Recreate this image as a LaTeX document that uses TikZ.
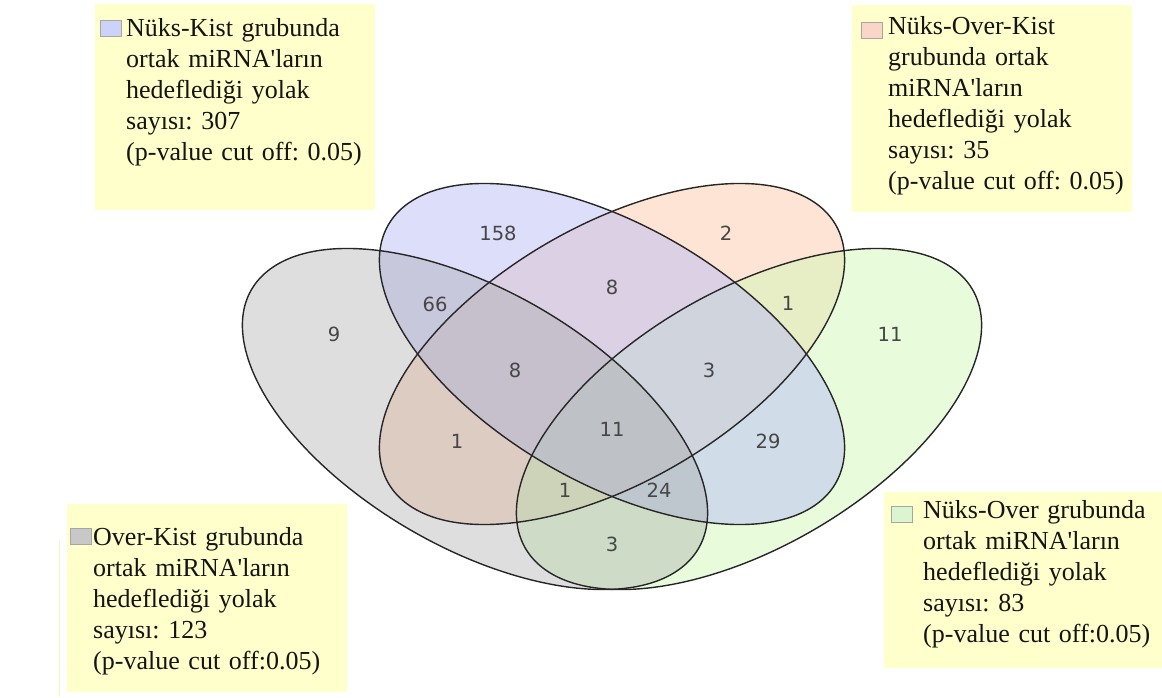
\documentclass[tikz,border=0pt]{standalone}
\usepackage{fontspec}
\setmainfont{Liberation Serif}
\newfontfamily\countfont{DejaVu Sans}
\usetikzlibrary{positioning}
\frenchspacing

\definecolor{setgrey}{RGB}{160,160,160}
\definecolor{setblue}{RGB}{185,189,245}
\definecolor{setorange}{RGB}{251,201,169}
\definecolor{setgreen}{RGB}{209,249,185}
\definecolor{legendyellow}{RGB}{255,255,204}
\definecolor{keyblue}{RGB}{205,210,249}
\definecolor{keyorange}{RGB}{251,214,200}
\definecolor{keygrey}{RGB}{200,200,200}
\definecolor{keygreen}{RGB}{218,245,208}
\definecolor{countgrey}{RGB}{70,70,70}
\newcommand{\apos}{\textquotesingle}

\begin{document}
\begin{tikzpicture}[x=1pt,y=1pt,
    venncount/.style={font=\countfont\fontsize{19.5}{19.5}\selectfont, text=countgrey, inner sep=0pt},
    legendbox/.style={fill=legendyellow, inner sep=0pt, anchor=north west},
    legendtext/.style={font=\fontsize{26}{31}\selectfont, text=black!92, align=left,
      text width=270pt, inner sep=0pt, anchor=base west},
    legendkey/.style={draw=black!35, line width=1pt, minimum width=21pt, minimum height=16pt, inner sep=0pt}]
  \useasboundingbox (0,0) rectangle (1162,697);
  % legend boxes
  \node[legendbox, minimum width=280pt, minimum height=206pt] (nkbox) at (95,693) {};
  \node[legendbox, minimum width=280pt, minimum height=207pt] (nokbox) at (852,692) {};
  \node[legendbox, minimum width=280pt, minimum height=188pt] (okbox) at (67,193) {};
  \node[legendbox, minimum width=278pt, minimum height=176pt] (nobox) at (884,205) {};
  \draw[legendyellow!70!black!12!legendyellow, line width=1pt] (59,157) -- (59,0);
  % set fills, then outlines
  \foreach \cx/\cy/\ang/\col/\op in {612/343/45/setorange/0.5, 749/278/45/setgreen/0.5, 612/343/-45/setblue/0.5, 475/278/-45/setgrey/0.35}
    \fill[fill=\col, fill opacity=\op, shift={(\cx,\cy)}, xscale=1.364, rotate=\ang]
      (0,0) ellipse [x radius=212.2, y radius=114.5];
  \foreach \cx/\cy/\ang in {475/278/-45, 612/343/-45, 612/343/45, 749/278/45}
    \draw[black!85, line width=1.4pt, shift={(\cx,\cy)}, xscale=1.364, rotate=\ang]
      (0,0) ellipse [x radius=212.2, y radius=114.5];
  % region counts
  \node[venncount] (kist) at (498,464) {158};
  \node[venncount] (overkist) at (726,464) {2};
  \node[venncount] (over) at (334,363) {9};
  \node[venncount] (kist-over) at (435,393) {66};
  \node[venncount] (kist-ovk) at (612,410) {8};
  \node[venncount] (ovk-nover) at (788,394) {1};
  \node[venncount] (nover) at (890,363) {11};
  \node[venncount] (kist-ovk-over) at (515,327) {8};
  \node[venncount] (kist-ovk-nover) at (709,327) {3};
  \node[venncount] (all) at (612,268) {11};
  \node[venncount] (ovk-over) at (457,256) {1};
  \node[venncount] (kist-nover) at (768,256) {29};
  \node[venncount] (ovk-over-nover) at (565,207) {1};
  \node[venncount] (kist-over-nover) at (659,207) {24};
  \node[venncount] (over-nover) at (612,153) {3};
  % legend texts and keys
  \node[legendkey, fill=keyblue] (nkkey) at (111,668) {};
  \node[legendtext] (nktext) at (126,660) {Nüks-Kist grubunda\\ortak miRNA\apos ların\\hedeflediği yolak\\sayısı: 307\\(p-value cut off: 0.05)};
  \node[legendkey, fill=keyorange] (nokkey) at (871.5,666) {};
  \node[legendtext] (noktext) at (888,662) {Nüks-Over-Kist\\grubunda ortak\\miRNA\apos ların\\hedeflediği yolak\\sayısı: 35\\(p-value cut off: 0.05)};
  \node[legendkey, fill=keygrey] (okkey) at (80.5,160.5) {};
  \node[legendtext] (oktext) at (93,152) {Over-Kist grubunda\\ortak miRNA\apos ların\\hedeflediği yolak\\sayısı: 123\\(p-value cut off:0.05)};
  \node[legendkey, fill=keygreen] (nokey) at (902,183) {};
  \node[legendtext] (notext) at (923,179) {Nüks-Over grubunda\\ortak miRNA\apos ların\\hedeflediği yolak\\sayısı: 83\\(p-value cut off:0.05)};
\end{tikzpicture}
\end{document}
